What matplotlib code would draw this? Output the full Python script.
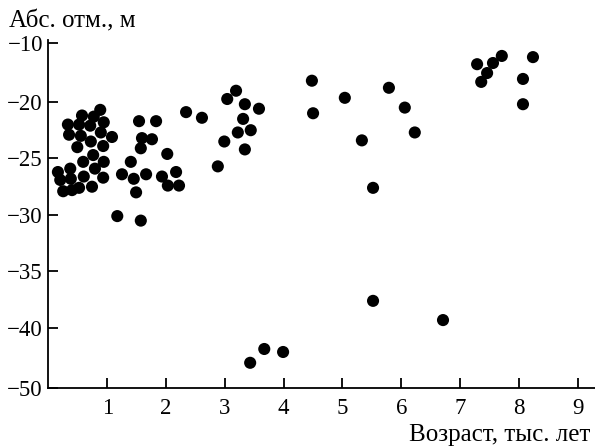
import numpy as np
from matplotlib import pyplot as plt

# возраст (тыс. лет) и абс. отметка (м)
age = [0.88, 0.57, 0.77, 0.94, 0.33, 0.52, 0.71, 0.35, 0.55, 0.89,
       1.08, 0.49, 0.72, 0.93, 0.76, 0.59, 0.94, 0.16, 0.37, 0.79,
       0.60, 0.93, 0.20, 0.38, 0.25, 0.40, 0.52, 0.74,
       1.17, 1.57, 1.25, 1.45, 1.66, 1.49, 1.40, 1.59, 1.76, 1.57,
       1.54, 1.83, 2.02, 1.93, 2.17, 2.03, 2.22,
       2.34, 2.61, 3.19, 3.04, 3.34, 3.58, 3.31, 3.22, 3.44, 2.99,
       3.34, 2.88,
       4.48, 4.50, 5.04, 5.33, 5.52, 5.79, 6.06, 6.23, 5.52, 6.71,
       3.43, 3.67, 3.99,
       7.29, 7.56, 7.71, 7.46, 7.36, 8.24, 8.07, 8.07]
elev = [-20.7, -21.2, -21.3, -21.8, -22.0, -22.0, -22.1, -22.9, -23.0, -22.7,
        -23.1, -24.0, -23.5, -23.9, -24.7, -25.3, -25.3, -26.2, -25.9, -25.9,
        -26.6, -26.7, -26.9, -26.8, -27.9, -27.8, -27.6, -27.5,
        -30.1, -30.5, -26.4, -26.8, -26.4, -28.0, -25.3, -23.2, -23.3, -24.1,
        -21.7, -21.7, -24.6, -26.6, -26.2, -27.4, -27.4,
        -20.9, -21.4, -18.1, -19.5, -20.2, -20.6, -21.5, -22.7, -22.5, -23.5,
        -24.2, -25.7,
        -16.4, -21.0, -19.3, -23.4, -27.6, -17.6, -20.5, -22.7, -37.6, -39.3,
        -45.8, -43.5, -44.0,
        -13.6, -13.4, -12.2, -15.1, -16.6, -12.4, -16.1, -20.2]

x_ticks = [1, 2, 3, 4, 5, 6, 7, 8, 9]
y_ticks = [-50, -40, -35, -30, -25, -20, -10]

# ось Y сжата выше -20 и ниже -40
knots = [-60, -50, -40, -20, -10, 0]
knot_pos = [-5.31, 0, 5.31, 25.31, 30.53, 35.75]


def forward(v):
    return np.interp(v, knots, knot_pos)


def inverse(v):
    return np.interp(v, knot_pos, knots)


plt.rcParams['font.family'] = ['Liberation Serif', 'DejaVu Serif']

fig = plt.figure(figsize=(5.95, 4.47), dpi=100)
ax = fig.add_axes([0.0815, 0.132, 0.918, 0.7785])
ax.set_yscale('function', functions=(forward, inverse))

ax.scatter(age, elev, s=76, color='black', edgecolors='none', zorder=3)

ax.set_xlim(0, 9.29)
ax.set_ylim(-50, -9.5)
ax.set_xticks(x_ticks)
ax.set_yticks(y_ticks)
ax.set_yticklabels(['\u2212%d' % abs(v) for v in y_ticks])
ax.minorticks_off()

for side in ['top', 'right']:
    ax.spines[side].set_visible(False)
for side in ['left', 'bottom']:
    ax.spines[side].set_linewidth(1.3)

ax.tick_params(axis='both', direction='in', length=7, width=1.3,
               labelsize=16.5)
ax.tick_params(axis='y', pad=4)
ax.tick_params(axis='x', pad=7)

fig.text(0.015, 1 - 21 / 447, 'Абс. отм., м', fontsize=18,
         ha='left', va='center')
fig.text(0.992, 1 - 435 / 447, 'Возраст, тыс. лет', fontsize=18,
         ha='right', va='center')

fig.savefig('out.png', dpi=100)
